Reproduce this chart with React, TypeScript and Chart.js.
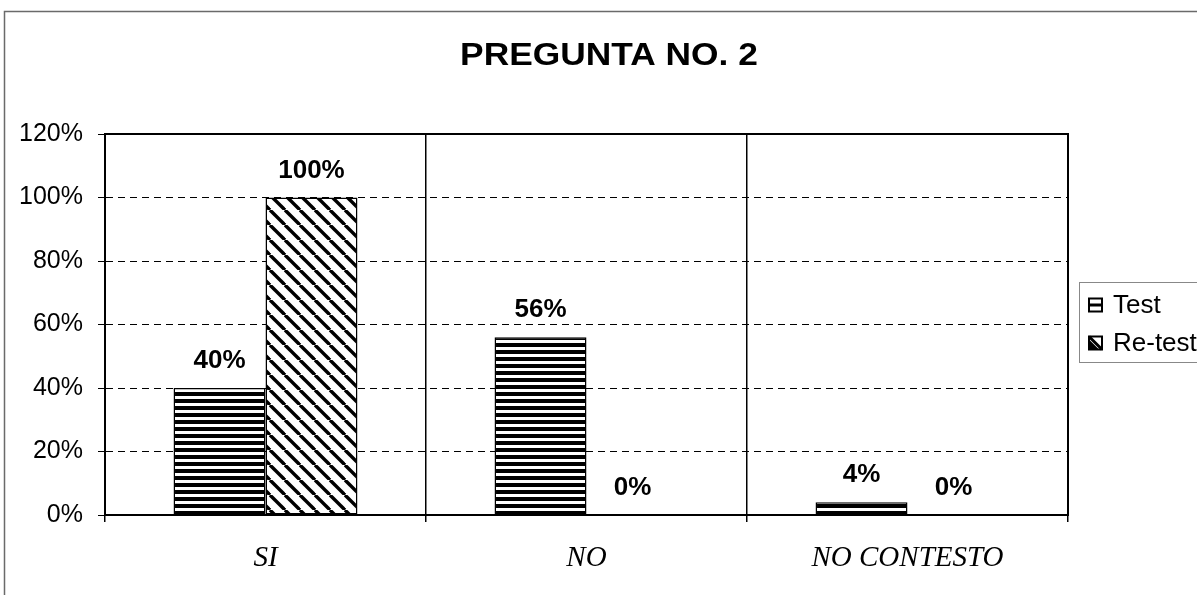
import React, { useEffect, useRef } from "react";
import { Chart, registerables } from "chart.js";

Chart.register(...registerables);

const categories = ["SI", "NO", "NO CONTESTO"];
const testValues = [40, 56, 4];
const retestValues = [100, 0, 0];
const seriesNames = ["Test", "Re-test"];
const yTicks = [0, 20, 40, 60, 80, 100, 120];
const titleText = "PREGUNTA NO. 2";

const SANS = "'Liberation Sans', Arial, sans-serif";
const SERIF = "'Liberation Serif', 'Times New Roman', serif";

function makeStripePattern(ctx: CanvasRenderingContext2D): CanvasPattern | string {
  const c = document.createElement("canvas");
  c.width = 8;
  c.height = 7;
  const g = c.getContext("2d")!;
  g.fillStyle = "#fff";
  g.fillRect(0, 0, 8, 7);
  g.fillStyle = "#000";
  g.fillRect(0, 0, 8, 4);
  return ctx.createPattern(c, "repeat") || "#000";
}

function makeDiagPattern(ctx: CanvasRenderingContext2D): CanvasPattern | string {
  const s = 15;
  const c = document.createElement("canvas");
  c.width = s;
  c.height = s;
  const g = c.getContext("2d")!;
  g.fillStyle = "#fff";
  g.fillRect(0, 0, s, s);
  g.strokeStyle = "#000";
  g.lineWidth = 3.4;
  for (const a of [-s, 0, s]) {
    g.beginPath();
    g.moveTo(a, 0);
    g.lineTo(a + s, s);
    g.stroke();
  }
  return ctx.createPattern(c, "repeat") || "#000";
}

const framePlugin = {
  id: "frameAndExtras",
  beforeDraw(chart: any) {
    const ctx = chart.ctx;
    ctx.save();
    ctx.fillStyle = "#fff";
    ctx.fillRect(0, 0, chart.width, chart.height);
    ctx.strokeStyle = "#6a6a6a";
    ctx.lineWidth = 1.5;
    ctx.beginPath();
    ctx.moveTo(4.5, chart.height);
    ctx.lineTo(4.5, 11.5);
    ctx.lineTo(chart.width, 11.5);
    ctx.stroke();

    // title (slightly widened, like the reference)
    ctx.translate(609, 65);
    ctx.scale(1.14, 1);
    ctx.fillStyle = "#000";
    ctx.font = `bold 31px ${SANS}`;
    ctx.textAlign = "center";
    ctx.textBaseline = "alphabetic";
    ctx.fillText(titleText, 0, 0);
    ctx.restore();
  },
  afterDatasetsDraw(chart: any) {
    const ctx = chart.ctx;
    ctx.save();
    ctx.fillStyle = "#000";
    ctx.font = `bold 26px ${SANS}`;
    ctx.textAlign = "center";
    ctx.textBaseline = "bottom";
    chart.data.datasets.forEach((ds: any, di: number) => {
      const meta = chart.getDatasetMeta(di);
      meta.data.forEach((bar: any, i: number) => {
        ctx.fillText(`${ds.data[i]}%`, bar.x, bar.y - 14);
      });
    });
    ctx.restore();
  },
  afterDraw(chart: any) {
    const ctx = chart.ctx;
    const a = chart.chartArea;
    ctx.save();
    ctx.strokeStyle = "#000";
    ctx.lineWidth = 2;
    ctx.strokeRect(a.left, a.top, a.right - a.left, a.bottom - a.top);

    // legend
    const lx = a.right + 11;
    const ly = 282;
    ctx.strokeStyle = "#888";
    ctx.lineWidth = 1;
    ctx.strokeRect(lx + 0.5, ly + 0.5, 140, 80);
    const rows = [305, 343];
    const sw = 13;
    const sx = lx + 10;
    ctx.font = `26px ${SANS}`;
    ctx.textAlign = "left";
    ctx.textBaseline = "middle";
    rows.forEach((cy, i) => {
      const top = cy - sw / 2;
      ctx.fillStyle = "#fff";
      ctx.fillRect(sx, top, sw, sw);
      ctx.strokeStyle = "#000";
      ctx.lineWidth = 2;
      ctx.strokeRect(sx, top, sw, sw);
      ctx.beginPath();
      ctx.lineWidth = 3;
      if (i === 0) {
        ctx.moveTo(sx, cy);
        ctx.lineTo(sx + sw, cy);
      } else {
        ctx.moveTo(sx, top);
        ctx.lineTo(sx + sw, top + sw);
      }
      ctx.stroke();
      if (i === 1) {
        ctx.fillStyle = "#000";
        ctx.beginPath();
        ctx.moveTo(sx, top + 3);
        ctx.lineTo(sx + sw - 3, top + sw);
        ctx.lineTo(sx, top + sw);
        ctx.closePath();
        ctx.fill();
      }
      ctx.fillStyle = "#000";
      ctx.fillText(seriesNames[i], lx + 34, cy + 1);
    });
    ctx.restore();
  },
};

export default function App() {
  const ref = useRef<HTMLCanvasElement | null>(null);

  useEffect(() => {
    const canvas = ref.current;
    if (!canvas) return;
    const ctx = canvas.getContext("2d")!;
    const stripe = makeStripePattern(ctx);
    const diag = makeDiagPattern(ctx);

    const chart = new Chart(canvas, {
      type: "bar",
      data: {
        labels: categories,
        datasets: [
          {
            label: seriesNames[0],
            data: testValues,
            backgroundColor: stripe as any,
            borderColor: "#000",
            borderWidth: 1.5,
            borderSkipped: false,
          },
          {
            label: seriesNames[1],
            data: retestValues,
            backgroundColor: diag as any,
            borderColor: "#000",
            borderWidth: 1.5,
            borderSkipped: false,
          },
        ],
      },
      options: {
        responsive: false,
        animation: false,
        devicePixelRatio: 1,
        layout: { padding: { left: 0, right: 129, top: 134, bottom: 0 } },
        datasets: {
          bar: { barPercentage: 1, categoryPercentage: 0.573 },
        },
        plugins: {
          legend: { display: false },
          tooltip: { enabled: false },
          title: { display: false },
        },
        scales: {
          x: {
            afterFit: (s: any) => {
              s.height = 80;
            },
            grid: {
              offset: true,
              color: "#000",
              lineWidth: 1.5,
              tickLength: 7,
              drawTicks: true,
            },
            border: { display: true, color: "#000", width: 2 },
            ticks: {
              color: "#000",
              padding: 19,
              font: { family: SERIF, size: 29, style: "italic" },
            },
          },
          y: {
            min: 0,
            max: 120,
            afterFit: (s: any) => {
              s.width = 105;
            },
            afterBuildTicks: (s: any) => {
              s.ticks = yTicks.map((v) => ({ value: v }));
            },
            grid: {
              color: "#000",
              lineWidth: 1,
              tickLength: 7,
              tickBorderDash: [20, 0],
            },
            border: { display: true, color: "#000", width: 2, dash: [7, 5] },
            ticks: {
              color: "#000",
              padding: 15,
              font: { family: SANS, size: 25 },
              callback: (v: any) => `${v}%`,
            },
          },
        },
      },
      plugins: [framePlugin],
    });

    return () => chart.destroy();
  }, []);

  return (
    <div style={{ position: "absolute", left: 0, top: 0, width: 1197, height: 595, background: "#fff" }}>
      <canvas ref={ref} width={1197} height={595} style={{ display: "block", width: 1197, height: 595 }} />
    </div>
  );
}
